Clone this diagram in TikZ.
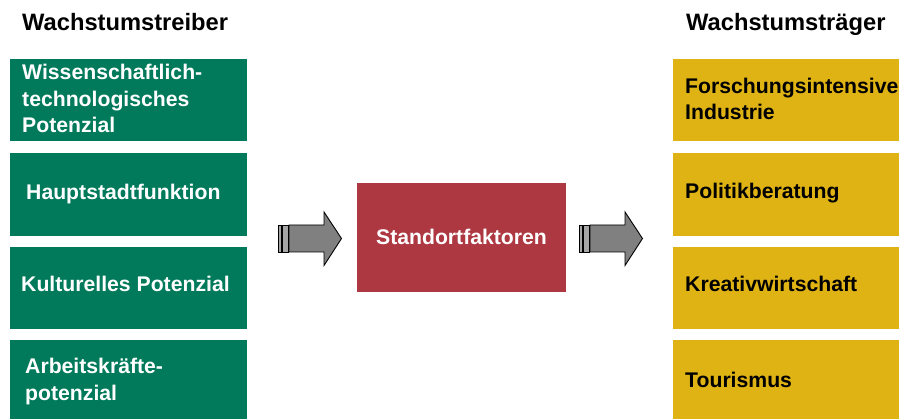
\documentclass[tikz,border=0pt]{standalone}
\usepackage{fontspec}
\setmainfont{Liberation Sans}
\definecolor{drvgreen}{RGB}{0,122,90}
\definecolor{trgyellow}{RGB}{223,179,20}
\definecolor{sfred}{RGB}{174,56,66}
\definecolor{arrgray}{RGB}{128,128,128}
\begin{document}
\begin{tikzpicture}[x=1pt,y=-1pt,
  box/.style={draw=none,inner sep=0pt,anchor=north west},
  boxtext/.style={anchor=base west,inner sep=0pt,align=left,font=\bfseries\fontsize{21.2}{26.5}\selectfont},
  titletext/.style={anchor=base west,inner sep=0pt,font=\bfseries\fontsize{23.7}{28}\selectfont},
  arrbody/.style={fill=arrgray,draw=black,line width=0.9pt,line join=miter},
  arrstripe/.style={fill=arrgray!70,draw=black,line width=0.9pt}]
\useasboundingbox (0,0) rectangle (899,419);
\fill[white] (0,0) rectangle (899,419);
% titles
\node[titletext] (tl) at (22,30.7) {Wachstumstreiber};
\node[titletext] (tr) at (686,31) {Wachstumsträger};
% left boxes
\node[box,fill=drvgreen,minimum width=237pt,minimum height=82pt] (l1) at (10,59) {};
\node[box,fill=drvgreen,minimum width=237pt,minimum height=83pt] (l2) at (10,153) {};
\node[box,fill=drvgreen,minimum width=237pt,minimum height=82pt] (l3) at (10,247) {};
\node[box,fill=drvgreen,minimum width=237pt,minimum height=82pt] (l4) at (10,340) {};
% (base anchor of a multi-line node = baseline of its last line)
\node[boxtext,text=white] (l1t) at (22,133) {Wissenschaftlich-\\technologisches\\Potenzial};
\node[boxtext,text=white] (l2t) at (26,200) {Hauptstadtfunktion};
\node[boxtext,text=white] (l3t) at (21,292) {Kulturelles Potenzial};
\node[boxtext,text=white] (l4t) at (25,400) {Arbeitskräfte-\\potenzial};
% right boxes
\node[box,fill=trgyellow,minimum width=240pt,minimum height=82pt] (r1) at (673,59) {};
\node[box,fill=trgyellow,minimum width=240pt,minimum height=83pt] (r2) at (673,153) {};
\node[box,fill=trgyellow,minimum width=240pt,minimum height=82pt] (r3) at (673,247) {};
\node[box,fill=trgyellow,minimum width=240pt,minimum height=82pt] (r4) at (673,340) {};
\node[boxtext,text=black] (r1t) at (685,120) {Forschungsintensive\\Industrie};
\node[boxtext,text=black] (r2t) at (685,199) {Politikberatung};
\node[boxtext,text=black] (r3t) at (685,292) {Kreativwirtschaft};
\node[boxtext,text=black] (r4t) at (685,387) {Tourismus};
% centre box
\node[box,fill=sfred,minimum width=209pt,minimum height=109pt] (sf) at (357,183) {};
\node[font=\bfseries\fontsize{21.2}{26}\selectfont,text=white,inner sep=0pt,anchor=base] (sft) at (461.5,245) {Standortfaktoren};
% block arrows
\foreach \dx in {0,301}{
  \begin{scope}[xshift=\dx pt]
  \draw[arrstripe] (278,225) rectangle (281.5,252);
  \draw[arrstripe] (282.5,225) rectangle (288,252);
  \draw[arrbody] (289,225) -- (324,225) -- (324,212) -- (341.5,238.5) -- (324,265.5) -- (324,252) -- (289,252) -- cycle;
  \end{scope}
}
\end{tikzpicture}
\end{document}
